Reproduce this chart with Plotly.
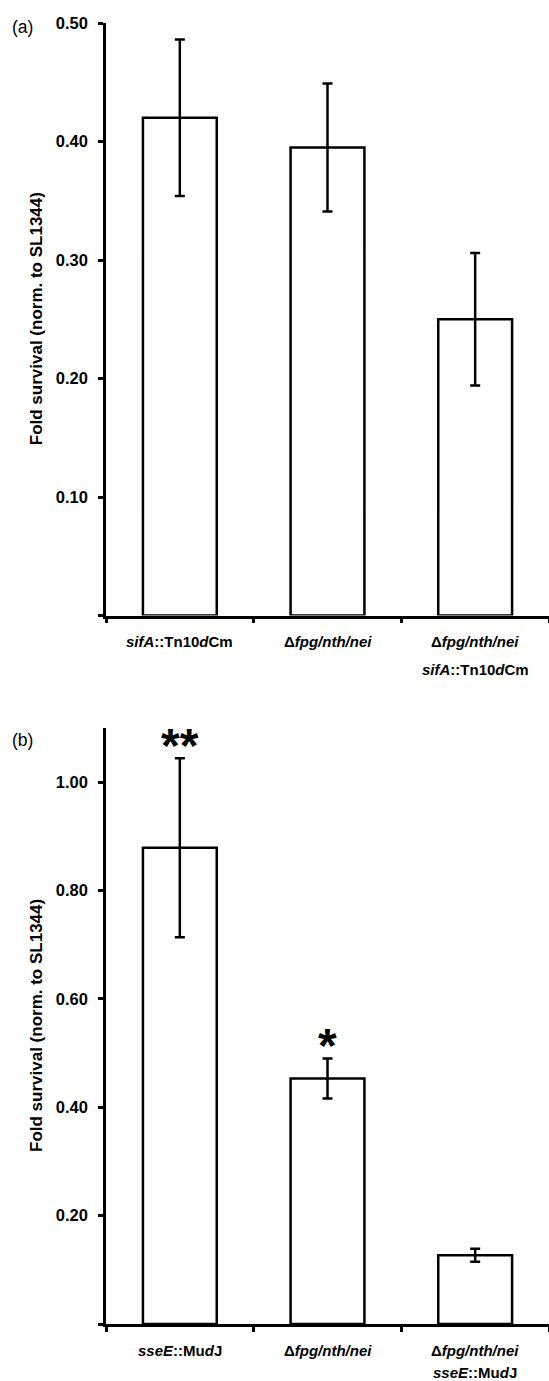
import plotly.graph_objects as go

W, H = 549, 1381
L, R, T, B = 106, 0, 0, 0

# ---------------- data ----------------
x_pos = [0, 1, 2]

labels_a = [["<i>sifA</i>::Tn10<i>d</i>Cm"],
            ["Δ<i>fpg/nth/nei</i>"],
            ["Δ<i>fpg/nth/nei</i>", "<i>sifA</i>::Tn10<i>d</i>Cm"]]
values_a = [0.420, 0.395, 0.250]
errors_a = [0.066, 0.054, 0.056]
yticks_a = [0, 0.1, 0.2, 0.3, 0.4, 0.5]
yticklabels_a = ["", "0.10", "0.20", "0.30", "0.40", "0.50"]

labels_b = [["<i>sseE</i>::Mu<i>d</i>J"],
            ["Δ<i>fpg/nth/nei</i>"],
            ["Δ<i>fpg/nth/nei</i>", "<i>sseE</i>::Mu<i>d</i>J"]]
values_b = [0.879, 0.453, 0.127]
errors_b = [0.165, 0.037, 0.012]
signif_b = ["**", "*", ""]
yticks_b = [0, 0.2, 0.4, 0.6, 0.8, 1.0]
yticklabels_b = ["", "0.20", "0.40", "0.60", "0.80", "1.00"]

y_title = "Fold survival (norm. to SL1344)"
panel_names = ["(a)", "(b)"]

FONT = "Liberation Sans, Arial, Helvetica, sans-serif"
LW = 2.5


def xp(px):
    return (px - L) / (W - L - R)


def yp(py):
    return 1 - (py - T) / (H - T - B)


dom_a = [yp(615.5), yp(23)]
dom_b = [yp(1324), yp(728)]

fig = go.Figure()

for vals, errs, xa, ya in [(values_a, errors_a, "x", "y"), (values_b, errors_b, "x2", "y2")]:
    fig.add_trace(go.Bar(
        x=x_pos, y=vals, width=0.5,
        marker=dict(color="white", line=dict(color="black", width=LW)),
        error_y=dict(type="data", array=errs, visible=True, color="black",
                     thickness=LW, width=5),
        xaxis=xa, yaxis=ya, showlegend=False, hoverinfo="skip",
    ))

xaxis_common = dict(
    range=[-0.5, 2.5], tickvals=[-0.5, 0.5, 1.5, 2.5], showticklabels=False,
    ticks="outside", ticklen=5, tickwidth=LW, tickcolor="black", automargin=False,
    showline=True, linecolor="black", linewidth=LW, showgrid=False, zeroline=False,
)
yaxis_common = dict(
    ticks="outside", ticklen=5, tickwidth=LW, tickcolor="black", automargin=False,
    showline=True, linecolor="black", linewidth=LW, showgrid=False, zeroline=False,
    tickfont=dict(family=FONT, size=16.5, color="black", weight="bold"),
    ticklabelstandoff=7,
)

fig.update_layout(
    template="none",
    width=W, height=H,
    margin=dict(l=L, r=R, t=T, b=B, pad=0, autoexpand=False),
    paper_bgcolor="white", plot_bgcolor="white",
    xaxis=dict(domain=[0, 1], anchor="y", **xaxis_common),
    yaxis=dict(domain=dom_a, anchor="x", range=[0, 0.5], tickvals=yticks_a,
               ticktext=yticklabels_a, **yaxis_common),
    xaxis2=dict(domain=[0, 1], anchor="y2", **xaxis_common),
    yaxis2=dict(domain=dom_b, anchor="x2", range=[0, 1.1], tickvals=yticks_b,
                ticktext=yticklabels_b, **yaxis_common),
)

ann = []
label_font = dict(family=FONT, size=15, color="black", weight="bold")
for labels, xa, ya, gap in [(labels_a, "x", "y", 28), (labels_b, "x2", "y2", 22)]:
    for i, lines in enumerate(labels):
        for j, line in enumerate(lines):
            ann.append(dict(x=x_pos[i], y=0, xref=xa, yref=ya, text=line,
                            showarrow=False, xanchor="center", yanchor="middle",
                            borderpad=0, yshift=-26 - gap * j, font=label_font))

for i, s in enumerate(signif_b):
    if s:
        ann.append(dict(x=x_pos[i], y=values_b[i] + errors_b[i], xref="x2", yref="y2",
                        text=s, showarrow=False, xanchor="center", yanchor="middle",
                        yshift=13, font=dict(family=FONT, size=48, color="black", weight="bold")))

for dom in [dom_a, dom_b]:
    ann.append(dict(x=xp(36), y=(dom[0] + dom[1]) / 2, xref="paper", yref="paper",
                    text=y_title, textangle=-90, showarrow=False,
                    xanchor="center", yanchor="middle",
                    font=dict(family=FONT, size=17, color="black", weight="bold")))

for name, py in zip(panel_names, [27, 740]):
    ann.append(dict(x=xp(22), y=yp(py), xref="paper", yref="paper", text=name,
                    showarrow=False, xanchor="center", yanchor="middle",
                    font=dict(family=FONT, size=17.5, color="black")))

fig.update_layout(annotations=ann)

fig.write_html("out.html")
